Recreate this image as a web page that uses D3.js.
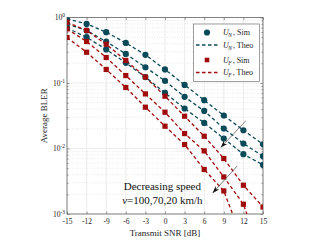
<html>
<head>
    <script src="https://d3js.org/d3.v7.min.js"></script>
</head>
<body style="margin:0">
    <svg id='s' width="319" height="240"></svg>
    <script>
        // data
        const snr = [-15, -12, -9, -6, -3, 0, 3, 6, 9, 12, 15]
        const speeds = [100, 70, 20]
        const xTicks = [-15, -12, -9, -6, -3, 0, 3, 6, 9, 12, 15]
        const yTicks = [1e-3, 1e-2, 1e-1, 1]

        // U_N, simulated, per speed 100/70/20 km/h
        const simN100 = [0.952, 0.799, 0.597, 0.409, 0.269, 0.161, 0.0935, 0.0546, 0.0319, 0.0190, 0.0116]
        const simN70 = [0.799, 0.633, 0.430, 0.278, 0.174, 0.108, 0.0614, 0.0375, 0.0202, 0.0119, 0.00763]
        const simN20 = [0.694, 0.500, 0.325, 0.203, 0.123, 0.0706, 0.0408, 0.0246, 0.0142, 0.00818, 0.00562]
        // U_F, simulated
        const simF100 = [0.848, 0.633, 0.391, 0.221, 0.123, 0.0629, 0.0311, 0.0154, 0.00703, 0.00275, 0.00128]
        const simF70 = [0.670, 0.430, 0.245, 0.130, 0.0682, 0.0358, 0.0169, 0.00919, 0.00368, 0.00141, null]
        const simF20 = [0.495, 0.295, 0.161, 0.0854, 0.0427, 0.0219, 0.0115, 0.00478, 0.00225, null, null]
        // theory curves
        const theoN100 = [0.952, 0.799, 0.597, 0.409, 0.269, 0.161, 0.0935, 0.0546, 0.0319, 0.0190, 0.0116]
        const theoN70 = [0.799, 0.633, 0.430, 0.278, 0.174, 0.108, 0.0614, 0.0375, 0.0202, 0.0119, 0.00763]
        const theoN20 = [0.694, 0.500, 0.325, 0.203, 0.123, 0.0706, 0.0408, 0.0246, 0.0142, 0.00818, 0.00562]
        const theoF100 = [0.848, 0.633, 0.391, 0.221, 0.123, 0.0629, 0.0311, 0.0154, 0.00703, 0.00275, 0.00128]
        const theoF70 = [0.670, 0.430, 0.245, 0.130, 0.0682, 0.0358, 0.0169, 0.00919, 0.00368, 0.00141, 0.0002]
        const theoF20 = [0.495, 0.295, 0.161, 0.0854, 0.0427, 0.0219, 0.0115, 0.00478, 0.00225, 0.00037, 0.00002]

        const BLUE = "#0b4a58"
        const RED = "#a00b0b"
        const FONT = "Liberation Serif, DejaVu Serif, serif"

        const MARGIN = { LEFT: 67, RIGHT: 56, TOP: 17.5, BOTTOM: 26 }
        const WIDTH = 319 - MARGIN.LEFT - MARGIN.RIGHT
        const HEIGHT = 240 - MARGIN.TOP - MARGIN.BOTTOM

        const svg = d3.select("svg")
        svg.append("rect").attr("width", 319).attr("height", 240).attr("fill", "white")

        const g = svg.append("g")
            .attr("transform", `translate(${MARGIN.LEFT}, ${MARGIN.TOP})`)

        const x = d3.scaleLinear().domain([-15, 15]).range([0, WIDTH])
        const y = d3.scaleLog().domain([1e-3, 1]).range([HEIGHT, 0])

        const minors = []
        yTicks.slice(0, 3).forEach(d => { for (let k = 2; k < 10; k++) minors.push(d * k) })

        // grid
        g.selectAll(".ming").data(minors).enter().append("line")
            .attr("x1", 0).attr("x2", WIDTH)
            .attr("y1", d => y(d)).attr("y2", d => y(d))
            .attr("stroke", "#d2d2d2").attr("stroke-width", 0.5)
            .attr("stroke-dasharray", "1,1.5")
        g.selectAll(".majy").data(yTicks).enter().append("line")
            .attr("x1", 0).attr("x2", WIDTH)
            .attr("y1", d => y(d)).attr("y2", d => y(d))
            .attr("stroke", "#e4e4e4").attr("stroke-width", 0.7)
        g.selectAll(".majx").data(xTicks).enter().append("line")
            .attr("x1", d => x(d)).attr("x2", d => x(d))
            .attr("y1", 0).attr("y2", HEIGHT)
            .attr("stroke", "#e4e4e4").attr("stroke-width", 0.7)

        // axes (ticks inward)
        const xAxisCall = d3.axisBottom(x).tickValues(xTicks).tickSize(-2.5).tickFormat(d => d)
        g.append("g").attr("class", "x axis")
            .attr("transform", `translate(0, ${HEIGHT})`)
            .call(xAxisCall)
        g.append("g").attr("transform", "translate(0,0)")
            .call(d3.axisTop(x).tickValues(xTicks).tickSize(-2.5).tickFormat(""))
        g.append("g").call(d3.axisLeft(y).tickValues(yTicks).tickSize(-2.5).tickFormat(""))
        g.append("g").call(d3.axisLeft(y).tickValues(minors).tickSize(-1.5).tickFormat(""))
        g.append("g").attr("transform", `translate(${WIDTH},0)`)
            .call(d3.axisRight(y).tickValues(yTicks).tickSize(-2.5).tickFormat(""))
        g.append("g").attr("transform", `translate(${WIDTH},0)`)
            .call(d3.axisRight(y).tickValues(minors).tickSize(-1.5).tickFormat(""))
        g.selectAll(".domain").remove()
        g.selectAll(".tick line").attr("stroke", "#555").attr("stroke-width", 0.6)
        g.selectAll(".x.axis text")
            .attr("font-family", FONT).attr("font-size", "7.5px").attr("fill", "#222")
            .attr("y", 4.5).attr("dy", "0.71em")

        // y tick labels as 10^k
        const yl = g.selectAll(".ylab").data(yTicks).enter().append("text")
            .attr("x", -2).attr("y", d => y(d) + 2.8)
            .attr("text-anchor", "end")
            .attr("font-family", FONT).attr("font-size", "7.5px").attr("fill", "#222")
        yl.append("tspan").text("10")
        yl.append("tspan").attr("dy", -3).attr("font-size", "5.5px")
            .text(d => Math.round(Math.log10(d)) === 0 ? "0" : "-" + (-Math.round(Math.log10(d))))

        g.append("rect").attr("width", WIDTH).attr("height", HEIGHT)
            .attr("fill", "none").attr("stroke", "#666").attr("stroke-width", 0.8)

        // labels
        g.append("text")
            .attr("x", WIDTH / 2).attr("y", HEIGHT + 21.5)
            .attr("font-family", FONT).attr("font-size", "9px")
            .attr("text-anchor", "middle").attr("fill", "#222")
            .text("Transmit SNR [dB]")
        g.append("text")
            .attr("x", -HEIGHT / 2).attr("y", -20.5)
            .attr("transform", "rotate(-90)")
            .attr("font-family", FONT).attr("font-size", "9px")
            .attr("text-anchor", "middle").attr("fill", "#222")
            .text("Average BLER")

        // curves
        svg.append("defs").append("clipPath").attr("id", "clip")
            .append("rect").attr("width", WIDTH).attr("height", HEIGHT)
        const plot = g.append("g").attr("clip-path", "url(#clip)")

        const line = d3.line()
            .defined(d => d[1] != null)
            .x(d => x(d[0])).y(d => y(d[1]))

        const theo = [
            { v: theoN100, c: BLUE }, { v: theoN70, c: BLUE }, { v: theoN20, c: BLUE },
            { v: theoF100, c: RED }, { v: theoF70, c: RED }, { v: theoF20, c: RED }
        ]
        theo.forEach(s => {
            plot.append("path")
                .attr("d", line(snr.map((d, i) => [d, s.v[i]])))
                .attr("fill", "none").attr("stroke", s.c)
                .attr("stroke-width", 1.3).attr("stroke-dasharray", "3.5,2.5")
        })

        const simN = [simN100, simN70, simN20]
        const simF = [simF100, simF70, simF20]
        simN.forEach(v => {
            plot.selectAll(null).data(snr.map((d, i) => [d, v[i]]).filter(d => d[1] != null))
                .enter().append("circle")
                .attr("cx", d => x(d[0])).attr("cy", d => y(d[1]))
                .attr("r", 3.1).attr("fill", BLUE)
        })
        simF.forEach(v => {
            plot.selectAll(null).data(snr.map((d, i) => [d, v[i]]).filter(d => d[1] != null))
                .enter().append("rect")
                .attr("x", d => x(d[0]) - 2.6).attr("y", d => y(d[1]) - 2.6)
                .attr("width", 5.2).attr("height", 5.2).attr("fill", RED)
        })

        // annotations: arrows + text (data coordinates)
        const arrows = [
            { from: [12.35, 0.0264], to: [8.53, 0.01035] },
            { from: [11.07, 0.00542], to: [7.3, 0.0021] }
        ]
        const defs = svg.select("defs")
        defs.append("marker").attr("id", "ah")
            .attr("viewBox", "0 0 10 10").attr("refX", 10).attr("refY", 5)
            .attr("markerWidth", 7).attr("markerHeight", 7).attr("orient", "auto")
            .attr("markerUnits", "userSpaceOnUse")
            .append("path").attr("d", "M0,1.5 L10,5 L0,8.5 L3,5 Z").attr("fill", "#111")
        arrows.forEach(a => {
            g.append("line")
                .attr("x1", x(a.from[0])).attr("y1", y(a.from[1]))
                .attr("x2", x(a.to[0])).attr("y2", y(a.to[1]))
                .attr("stroke", "#444").attr("stroke-width", 0.7)
                .attr("marker-end", "url(#ah)")
        })

        const noteX = -0.4
        g.append("text")
            .attr("x", x(noteX)).attr("y", y(0.0023))
            .attr("text-anchor", "middle")
            .attr("font-family", FONT).attr("font-size", "11px").attr("fill", "#111")
            .text("Decreasing speed")
        const t2 = g.append("text")
            .attr("x", x(noteX)).attr("y", y(0.00141))
            .attr("text-anchor", "middle")
            .attr("font-family", FONT).attr("font-size", "11px").attr("fill", "#111")
        t2.append("tspan").attr("font-style", "italic").text("v")
        t2.append("tspan").text("=" + speeds.join(",") + " km/h")

        // legend
        const leg = svg.append("g")
        leg.append("rect").attr("x", 193.5).attr("y", 24).attr("width", 66).attr("height", 57.5)
            .attr("fill", "white").attr("stroke", "#777").attr("stroke-width", 0.7)
        const legItems = [
            { u: "N", lab: "Sim", c: BLUE, k: "circle", yy: 32.5 },
            { u: "N", lab: "Theo", c: BLUE, k: "line", yy: 45 },
            { u: "F", lab: "Sim", c: RED, k: "square", yy: 60 },
            { u: "F", lab: "Theo", c: RED, k: "line", yy: 72.5 }
        ]
        legItems.forEach(d => {
            if (d.k === "circle") {
                leg.append("circle").attr("cx", 207).attr("cy", d.yy).attr("r", 3.1).attr("fill", d.c)
            } else if (d.k === "square") {
                leg.append("rect").attr("x", 207 - 2.3).attr("y", d.yy - 2.3)
                    .attr("width", 4.6).attr("height", 4.6).attr("fill", d.c)
            } else {
                leg.append("line").attr("x1", 196).attr("x2", 218.5)
                    .attr("y1", d.yy).attr("y2", d.yy)
                    .attr("stroke", d.c).attr("stroke-width", 1.3).attr("stroke-dasharray", "3.5,2.5")
            }
            const t = leg.append("text").attr("x", 223).attr("y", d.yy + 2.5)
                .attr("font-family", FONT).attr("font-size", "8px").attr("fill", "#222")
            t.append("tspan").attr("font-style", "italic").text("U")
            t.append("tspan").attr("font-style", "italic").attr("font-size", "5.5px")
                .attr("dy", 2).attr("dx", -0.5).text(d.u)
            t.append("tspan").attr("dy", -2).attr("dx", 1).text(", " + d.lab)
        })
    </script>
</body>
</html>
